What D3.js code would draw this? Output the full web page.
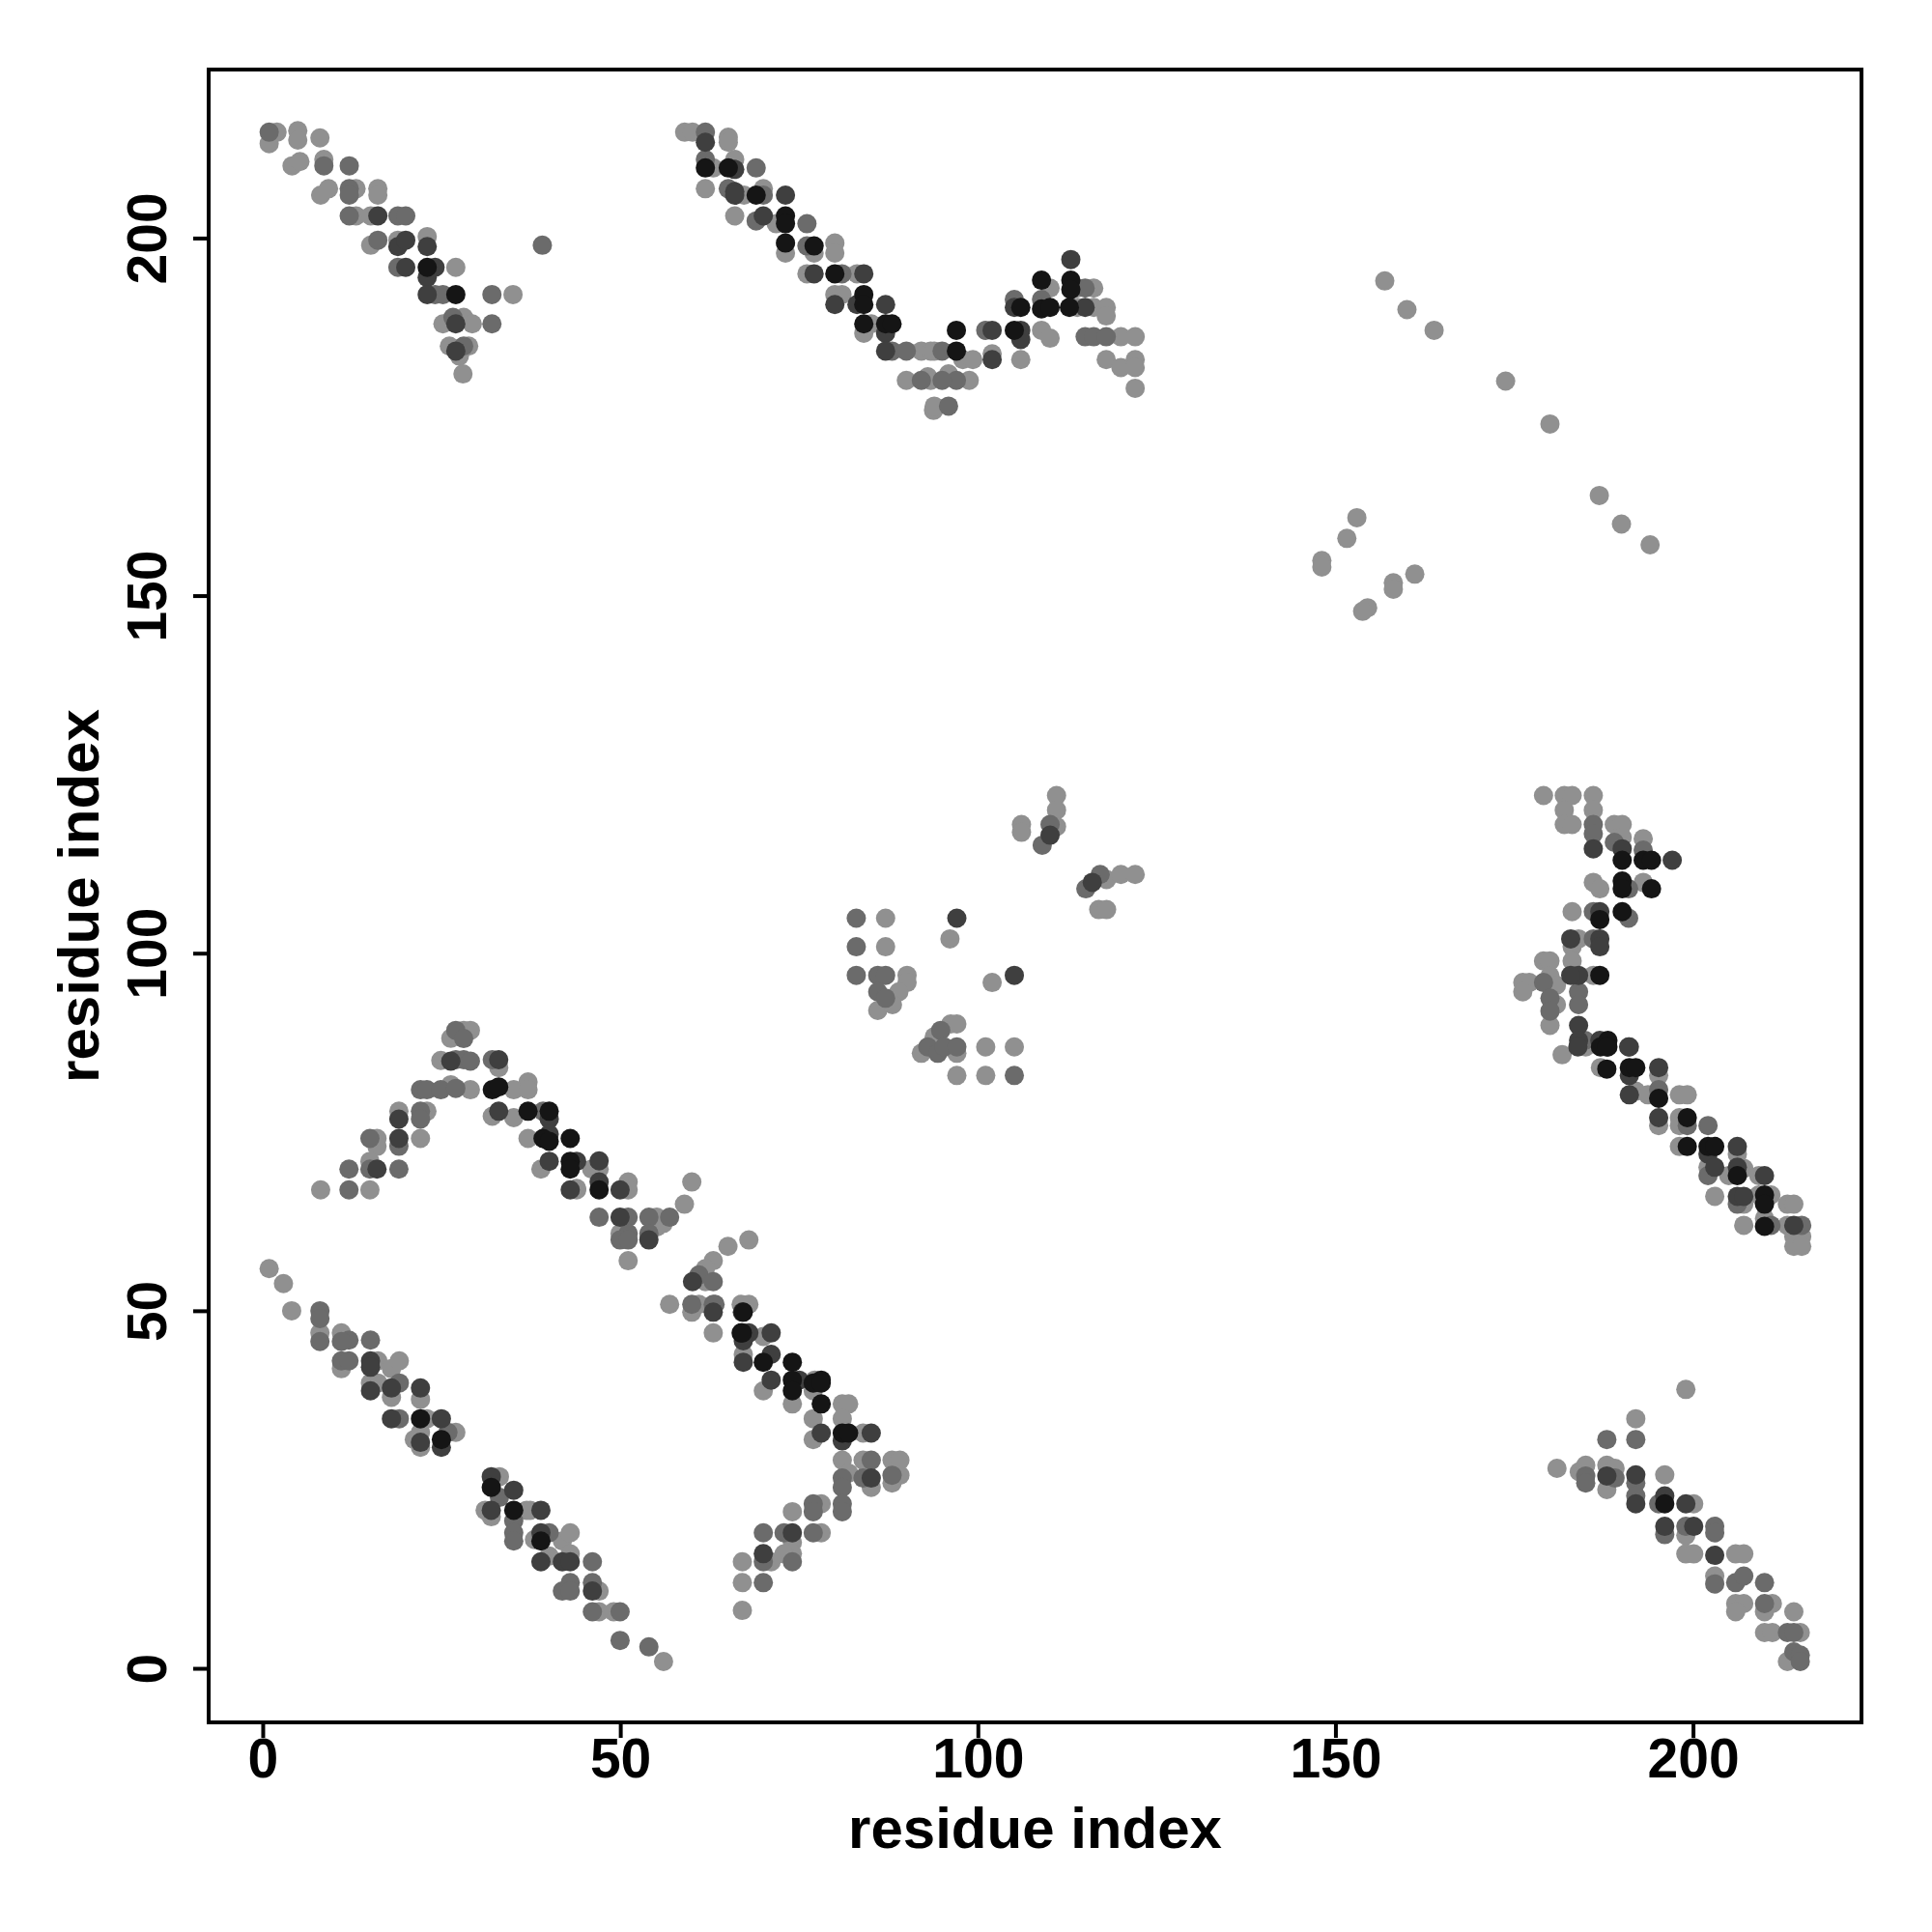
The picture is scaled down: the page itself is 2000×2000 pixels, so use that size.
<!DOCTYPE html>
<html>
<head>
<meta charset="utf-8">
<script src="https://cdn.jsdelivr.net/npm/d3@7"></script>
<style>
  body { margin: 0; background: #fff; }
  text { font-family: "Liberation Sans", Arial, sans-serif; font-weight: bold; }
</style>
</head>
<body>
<div id="vis-holder"></div>
<script>
// chart size and plot box
const width = 2000;
const height = 2000;
const box = { left: 216, right: 1927, top: 72, bottom: 1783 };

const xTicks = [0, 50, 100, 150, 200];
const yTicks = [0, 50, 100, 150, 200];
const xTitle = "residue index";
const yTitle = "residue index";

// contact points by shade, [residue i, residue j]
const lightPts = [
  [2.0,214.8],[4.9,215],[4.9,213.7],[0.9,213.2],[8.0,214.0],[4.1,210.1],[5.2,210.7],[8.55,211],[8.1,206],[9.2,206.9],
  [13.05,206.9],[16.1,206.9],[16.1,206],[13.05,203.1],[15.1,203.1],[15.1,199],[18.9,199.7],[23.0,200.2],[27.0,195.9],
  [35.0,192.1],[25.2,188],[28.1,188.9],[29.3,188],[26.1,184.9],[28.8,184.9],[27.5,183.5],[28,181],
  [59.0,214.8],[60.1,214.8],[65.1,214.1],[65.1,213.4],[63.0,209.8],[66.0,211.0],[61.9,206.9],[67.3,206.0],[70.0,206.9],
  [66.0,203.1],[71.8,202.0],[73.1,197.9],[77.1,197.9],[80.0,199.3],[80.0,197.9],[76.1,195.0],[83.1,195.0],[80.0,192.1],
  [81.0,192.1],[85.1,188.0],[84.05,186.7],[92.1,184.2],[93.4,184.2],[90.0,180.1],[93.4,180.1],[93.8,175.9],
  [110.1,193.0],[113.9,193.0],[116.2,193.0],[113.9,190.3],[116.2,190.3],[117.95,190.3],[117.95,189.1],[108.9,187.1],
  [110.1,186.0],[120.0,186.2],[122.0,186.2],[97.9,183.0],[99.3,183.0],[102.0,183.8],[106.0,183.0],[117.95,183.0],
  [120.0,181.9],[122.0,183.0],[122.0,181.9],[93.9,184.2],[93,180.6],[98.8,180.1],[95.9,181],[93.9,176.5],[122.0,179.0],
  [156.9,194.0],[160.0,190.0],[163.8,187.1],[173.8,180.0],[180.0,174.0],[186.9,164.0],[190.0,160.0],[194.0,157.1],
  [148.1,154.9],[148.1,154],[151.6,158.0],[153.0,160.9],[154.5,148.3],[153.8,147.8],[158.1,151.8],[158.1,150.9],[161.1,153.0],
  [111.0,122.05],[111.0,120.0],[106.1,118.0],[106.1,116.9],[111.0,117.7],[118.0,110.3],[120.0,111.0],[122.0,111.0],
  [116.9,106.1],[118.0,106.1],[87.1,104.9],[96.1,102.0],[87.1,100.9],[102.0,95.9],[90.1,96.9],[90.1,95.9],[88.95,94.6],
  [86.0,92.0],[88.06,92.8],[96.2,90.1],[97.06,90.1],[93.9,88.3],[92.1,86.0],[97.06,86.0],[101.1,86.9],[105.1,86.9],
  [97.06,82.9],[101.1,82.9],
  [179.1,122.05],[182.0,122.05],[183.1,122.05],[186.06,122.05],[182.0,120.0],[186.06,120.0],[182.0,118.0],[183.1,118.0],
  [188.99,118.0],[190.1,118.0],[190.1,116.2],[193.04,116.0],[186.06,109.9],[186.97,109.0],[193.04,109.9],[183.1,105.8],
  [184.0,102.0],[183.1,100.9],[179.1,98.9],[180.0,98.9],[183.1,98.9],[186.06,96.9],[176.2,95.9],[177.1,95.9],[176.2,94.6],
  [180.0,96.8],[180.9,95.5],[180.9,92.8],[180.0,89.9],[181.7,85.8],
  [185.0,86.9],[187.06,84.0],[195.2,82.9],[192.0,80.7],[193.7,80.2],[198.1,80.2],[199.2,80.2],[195.2,75.9],[198.1,77.0],
  [198.1,75.9],[198.1,72.97],[206.2,71.9],[202.1,70.06],[205,68.9],[207.1,69.9],[209.2,68.9],[203.04,66.0],[207.1,64.9],
  [209.2,66.2],[210.9,66.2],[213.2,64.9],[214.1,64.9],[207.1,61.95],[210.0,62.9],[213.2,61.95],[214.1,60.4],[215.2,60.4],
  [214.1,59.0],[215.2,59.0],
  [26.3,88.1],[28.1,89.2],[29.04,89.2],[24.9,85],[33.0,84.0],[26.3,81.6],[29.04,80.9],[35.1,80.9],[37.1,82.0],[37.1,80.9],
  [19.04,77.9],[22.96,77.9],[32.1,77.2],[35.1,77.0],[15.98,74.1],[15.98,72.97],[22.06,74.1],[37.1,74.1],[14.99,70.9],
  [38.9,69.8],[8.1,66.9],[14.99,66.9],[43.9,66.9],
  [46,69.8],[47.04,69.8],[43.9,67.1],[51.1,68.0],[51.1,66.9],[60.0,68.0],[58.97,64.9],[49.97,60.8],[55.1,63.07],[56.0,62.2],
  [55.1,61.7],[51.1,57.0],[65.05,59.0],[67.98,59.9],[63.0,57.0],[61.9,55.9],[61.9,54.07],[56.9,50.9],[60.0,49.8],[61.0,50.9],
  [66.9,50.9],[67.98,50.9],[63.0,46.9],[70.0,46.4],[67.2,43.9],[77.2,40.3],
  [76.98,38.8],[74.06,36.97],[81.04,36.97],[81.93,36.97],[76.98,34.9],[81.04,34.9],[76.98,32],[83.95,32.9],[81.04,29.1],
  [81.93,27.3],[83.95,29.1],[85.09,25.3],[88.0,29.1],[89.1,29.1],[89.1,27.0],[88.0,25.9],[78.1,23.0],[74.06,21.9],
  [78.1,18.95],[74.06,17.6],[71.1,14.9],[74.06,16.03],[72.9,16.0],[67.07,14.9],[67.07,11.98],[67.07,8.1],[70,38.8],
  [0.9,55.9],[2.9,53.8],[4.05,50.0],[8.0,46.9],[11.0,46.9],[11.0,41.9],[16.1,43.0],[18.0,41.9],[19.1,43.0],[15.07,39.9],
  [16.1,39.9],[18.0,37.9],[22.06,37.6],[22.96,34.9],[22.06,33.0],[21.2,32],[22.06,30.9],[27.0,33.0],[33.1,26.8],[31.1,22.1],
  [36.9,22.1],[31.96,21.2],
  [37.4,22.1],[38.0,18.0],[41.9,17.8],[43.0,18.95],[40.06,15.7],[43.0,16.0],[47.04,10.8],[47.04,7.9],[49.07,7.9],[56.05,0.95],
  [199.0,39.0],[192.0,34.9],[180.98,27.96],[184.1,27.5],[185.0,28.4],[187.95,28.4],[187.95,25.0],[189.1,27.96],[196.05,27.05],
  [200.1,23.0],[199.0,18.6],[199.0,16.0],[200.1,16.0],[205.97,16.0],[207.1,16.0],[203.04,12.9],[205.97,9.05],[207.1,9.05],
  [205.97,7.9],[211.1,9.05],[210.0,7.9],[214.1,7.9],[210.0,5.0],[211.1,5.0],[215.0,5.0],[213.2,0.95]
];

const midPts = [
  [0.9,214.8],[8.55,210.1],[12.1,210.1],[12.1,206.9],[12.1,206],[12.1,203.1],[18.9,203.1],[20.0,203.1],[16.1,199.7],[39.1,199],
  [18.9,195.9],[24.1,192.1],[25.2,192.1],[32.05,192.1],[26.6,188.9],[32.05,188],[28.1,184.9],
  [61.9,214.8],[61.9,211.0],[69.0,209.8],[65.1,206.9],[70.0,206.0],[69.0,202.4],[76.1,202.0],[76.1,198.9],[81.0,195.0],
  [88.0,184.2],[90.0,184.2],[92.1,180.1],
  [115.0,193.0],[105.1,191.4],[108.9,191.4],[101.1,187.1],[115.0,186.2],[116.2,186.2],[117.95,186.2],[95.0,184.2],
  [97.0,180.1],[95.0,180.1],[95.9,176.5],
  [110.1,118.0],[109.0,115.1],[115.1,109.0],[117.1,111.0],[83.0,104.9],[83.0,100.9],[83.0,96.9],[86.0,96.9],[87.1,96.9],
  [86.0,94.6],[87.1,93.7],[94.8,89.2],[93.0,86.9],[94.4,86.0],[95.3,86.9],[97.06,86.9],[105.1,82.9],
  [186.06,118.0],[186.06,116.7],[189,115.5],[193.04,114.4],[191.0,109.0],[186.06,105.8],[191.0,104.9],[186.06,102.0],
  [179.1,95.9],[180.0,93.7],[184.0,94.6],[184.0,92.8],[180.0,91.9],[184.9,87.8],
  [195.2,80.9],[199.2,75.9],[202.1,75.9],[202.1,68.9],[206.2,64.9],[210.9,61.95],[215.2,61.95],
  [27.0,89.2],[28.1,88.06],[27.0,85.1],[28.1,85.1],[29.04,84.9],[32.1,85.1],[22.06,80.9],[22.96,80.9],[24.9,80.9],[27.0,81.1],
  [22.06,77.9],[22.06,76.8],[39.2,77.9],[14.99,74.1],[19.04,73.0],[12.06,69.8],[14.99,69.8],[19.04,69.8],[12.06,66.9],
  [47.04,63.07],[51.1,63.07],[51.1,60.8],[49.97,59.9],[51.1,59.9],[54.0,63.07],[56.9,63.07],[54.0,60.8],[61.0,55.0],
  [63.0,54.07],[60.0,50.9],[63.0,50.9],
  [63.25,50.9],[81.04,26.6],[81.04,25.3],[85.09,29.1],[83.95,26.6],[88.0,27.0],[81.04,23.0],[81.04,21.9],[76.98,23.0],
  [76.98,21.9],[70.0,18.95],[72.9,18.95],[76.98,18.95],[70.0,14.9],[74.06,14.9],[70.0,11.98],
  [8.0,50.0],[8.0,48.9],[8.0,45.7],[12.06,45.9],[11.0,45.7],[15.07,45.9],[11.0,43.0],[12.06,43.0],[19.1,39.9],[19.1,34.9],
  [25.9,33.0],[33.1,23.9],[35.1,20.6],
  [35.1,18.95],[35.1,17.8],[40.06,18.95],[46.1,14.9],[41.9,10.8],[43.0,11.98],[43.0,10.8],[46.1,11.98],[46.1,7.9],
  [49.97,7.9],[49.97,3.9],[54.0,3.0],
  [187.95,32.0],[192.0,32.0],[185.0,26.9],[185.0,25.9],[189.1,26.6],[192.0,25.9],[192.0,24.1],[195.2,23.0],[196.05,18.7],
  [199.0,19.85],[203.04,19.85],[203.04,18.95],[203.04,11.8],[205.97,11.98],[207.1,12.9],[210.0,11.98],[210.0,9.05],
  [213.2,5.0],[214.1,5.0],[214.1,2.3],[215.0,1.85],[215.0,0.95]
];

const darkPts = [
  [16.1,203.1],[18.9,198.8],[20,199.7],[23.0,198.8],[20,195.9],[24.1,195.9],[23,194.5],[23,192.1],[27,188],[27,184.2],
  [61.9,213.4],[66.0,209.6],[66.0,206.5],[66.0,206.0],[73.1,206.0],[70.0,203.1],[77.1,195.0],[84.05,195.0],[80.0,190.7],
  [83.1,190.7],[87.1,190.7],[87.1,186.7],[87.1,184.2],
  [113.0,197.0],[105.1,190.3],[115.0,190.3],[102.0,187.1],[106.0,187.1],[106.0,185.8],[102.0,183.0],
  [110.1,116.5],[116.0,109.9],[97.06,104.9],[105.1,96.9],
  [186.06,114.6],[190.1,114.6],[197.1,113.0],[186.97,105.8],[182.9,102.0],[186.97,102.0],[186.97,100.9],[184.0,96.9],
  [182.9,96.9],[184.0,89.9],[184.0,87.8],[186.97,87.8],[191.0,86.9],
  [183.9,86.9],[191.1,86.9],[191.1,82.9],[195.2,84.0],[191.1,80.2],[195.2,77.0],[202.1,71.9],[206.2,72.97],[203.04,70.06],
  [206.2,70.06],[210.0,68.9],[206.2,66.0],[207.1,66.0],[214.1,61.95],
  [26.3,84.9],[33.0,85.1],[33.0,77.9],[19.04,76.8],[40.06,76.8],[19.04,74.1],[40.06,74.7],[15.98,69.8],[40.06,70.9],
  [43.9,70.9],[43.0,66.9],
  [47.04,70.95],[47.04,68.0],[49.97,66.9],[49.97,63.07],[54.0,59.9],[60.1,54.07],[63.0,49.8],[67.98,46.9],[71.1,46.9],
  [67.2,45.8],[67.2,42.8],[71.1,43.9],[71.1,40.3],[75,40.3],
  [67.07,49.8],[78.1,32.9],[81.04,31.8],[85.09,32.9],[85.09,26.6],[74.06,18.95],[70.0,16.03],
  [15.07,43.0],[15.07,42.1],[15.07,38.8],[18.0,39.2],[22.06,39.2],[18.0,34.9],[24.98,34.9],[22.06,31.6],[24.98,30.9],
  [31.96,26.8],[35.1,24.9],[31.96,22.1],
  [38.9,22.1],[38.9,18.95],[38.9,14.9],[41.9,14.9],[43.0,14.9],[46.1,10.8],
  [187.95,26.9],[192.0,27.05],[192.0,23.0],[196.05,24.1],[199.0,23.0],[196.05,19.85],[200.1,19.85],[203.04,15.8]
];

const blackPts = [
  [23.0,195.9],[27,192.1],
  [61.9,209.8],[65.1,209.8],[69.0,206.0],[73.1,203.1],[73.1,202.0],[73.1,199.3],[77.1,198.9],[80.0,195.0],[84.05,192.1],
  [84.05,190.7],[84.05,188.0],[87.1,188.0],[88.0,188.0],
  [108.9,194.1],[113.0,194.1],[113.0,192.8],[106.0,190.3],[108.9,190.1],[110.1,190.3],[112.8,190.3],[97.0,187.1],
  [105.1,187.1],[97.0,184.2],
  [190.1,113.0],[193.04,113.0],[194.2,113.0],[190.1,110.1],[190.1,109.0],[194.2,109.0],[186.97,104.7],[190.1,105.8],
  [186.97,96.9],[188.1,87.8],[188.1,86.9],
  [187.06,86.9],[187.95,86.9],[187.95,83.8],[191.1,84.0],[192.0,84.0],[195.2,79.7],[199.2,77.0],[199.2,72.97],
  [202.1,72.97],[203.04,72.97],[206.2,68.9],[210.0,66.2],[210.0,64.9],[210.0,61.8],
  [32.1,80.9],[33.0,81.3],[37.1,77.9],[40.06,77.9],[39.2,74.1],[40.06,73.7],[43.0,74.1],[43.0,70.9],[43.0,69.8],
  [47.04,66.9],[67.2,49.8],[66.9,46.9],[70.0,42.8],[74.06,42.8],[74.06,40.3],[78.1,40.3],
  [67.07,46.9],[76.98,39.9],[78.1,39.9],[78.1,36.97],[81.04,32.9],[81.93,32.9],[74.06,38.8],
  [22.06,34.9],[24.98,32.0],[31.96,25.3],[35.1,22.1],[38.9,17.8],
  [196.05,23.0]
];

const layers = [
  { pts: lightPts, fill: "#909090" },
  { pts: midPts, fill: "#6b6b6b" },
  { pts: darkPts, fill: "#3f3f3f" },
  { pts: blackPts, fill: "#151515" }
];

const svg = d3.select("#vis-holder")
  .append("svg")
  .attr("width", width)
  .attr("height", height);

// same range on both axes (R style 4% padding around 1..215)
const x = d3.scaleLinear().domain([-7.56, 223.56]).range([box.left, box.right]);
const y = d3.scaleLinear().domain([-7.56, 223.56]).range([box.bottom, box.top]);

// points
layers.forEach((layer) => {
  svg.append("g")
    .selectAll("circle")
    .data(layer.pts)
    .enter()
      .append("circle")
      .attr("cx", (d) => x(d[0]))
      .attr("cy", (d) => y(d[1]))
      .attr("r", 10)
      .style("fill", layer.fill);
});

// x axis
svg.append("g")
  .attr("transform", `translate(0,${box.bottom})`)
  .call(d3.axisBottom(x).tickValues(xTicks).tickSize(16).tickPadding(6))
  .call((g) => g.select(".domain").remove())
  .call((g) => g.selectAll("line").attr("stroke", "#000").attr("stroke-width", 4))
  .call((g) => g.selectAll("text")
                .attr("font-size", "57px")
                .attr("fill", "#000")
                .attr("dy", null)
                .attr("y", 57));

// y axis, labels rotated
svg.append("g")
  .attr("transform", `translate(${box.left},0)`)
  .call(d3.axisLeft(y).tickValues(yTicks).tickSize(16))
  .call((g) => g.select(".domain").remove())
  .call((g) => g.selectAll("line").attr("stroke", "#000").attr("stroke-width", 4))
  .call((g) => g.selectAll("text")
                .attr("font-size", "57px")
                .attr("fill", "#000")
                .attr("x", null)
                .attr("dy", null)
                .attr("text-anchor", "middle")
                .attr("transform", "translate(-44,0) rotate(-90)"));

// plot box
svg.append("rect")
  .attr("x", box.left)
  .attr("y", box.top)
  .attr("width", box.right - box.left)
  .attr("height", box.bottom - box.top)
  .attr("fill", "none")
  .attr("stroke", "#000")
  .attr("stroke-width", 4);

// axis titles
svg.append("text")
  .attr("x", (box.left + box.right) / 2)
  .attr("y", 1913)
  .attr("text-anchor", "middle")
  .attr("font-size", "60px")
  .text(xTitle);

svg.append("text")
  .attr("transform", `translate(102,${(box.top + box.bottom) / 2}) rotate(-90)`)
  .attr("text-anchor", "middle")
  .attr("font-size", "60px")
  .text(yTitle);
</script>
</body>
</html>
